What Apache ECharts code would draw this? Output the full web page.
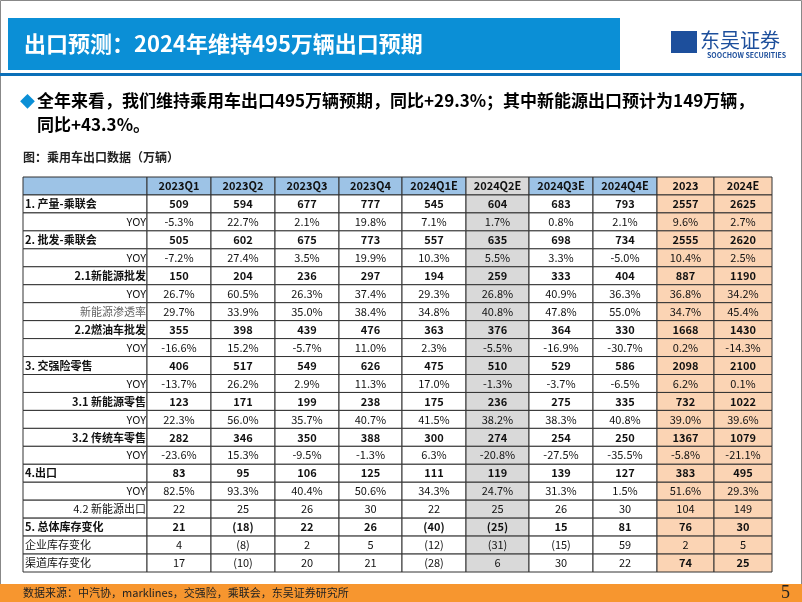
<!DOCTYPE html>
<html><head><meta charset="utf-8">
<script src="https://cdn.jsdelivr.net/npm/echarts@6/dist/echarts.min.js"></script>
<style>html,body{margin:0;padding:0;background:#fff}#main{width:802px;height:602px}</style>
</head><body><div id="main"></div>
<script>
// 表头
var colLabels = ['', '2023Q1', '2023Q2', '2023Q3', '2023Q4', '2024Q1E', '2024Q2E', '2024Q3E', '2024Q4E', '2023', '2024E'];
// 行标题
var rowLabels = ['1. 产量-乘联会', 'YOY', '2. 批发-乘联会', 'YOY', '2.1新能源批发', 'YOY', '新能源渗透率',
    '2.2燃油车批发', 'YOY', '3. 交强险零售', 'YOY', '3.1 新能源零售', 'YOY', '3.2 传统车零售', 'YOY',
    '4.出口', 'YOY', '4.2 新能源出口', '5. 总体库存变化', '企业库存变化', '渠道库存变化'];
// 数据（万辆 / 同比）
var rowValues = [
    ['509', '594', '677', '777', '545', '604', '683', '793', '2557', '2625'],
    ['-5.3%', '22.7%', '2.1%', '19.8%', '7.1%', '1.7%', '0.8%', '2.1%', '9.6%', '2.7%'],
    ['505', '602', '675', '773', '557', '635', '698', '734', '2555', '2620'],
    ['-7.2%', '27.4%', '3.5%', '19.9%', '10.3%', '5.5%', '3.3%', '-5.0%', '10.4%', '2.5%'],
    ['150', '204', '236', '297', '194', '259', '333', '404', '887', '1190'],
    ['26.7%', '60.5%', '26.3%', '37.4%', '29.3%', '26.8%', '40.9%', '36.3%', '36.8%', '34.2%'],
    ['29.7%', '33.9%', '35.0%', '38.4%', '34.8%', '40.8%', '47.8%', '55.0%', '34.7%', '45.4%'],
    ['355', '398', '439', '476', '363', '376', '364', '330', '1668', '1430'],
    ['-16.6%', '15.2%', '-5.7%', '11.0%', '2.3%', '-5.5%', '-16.9%', '-30.7%', '0.2%', '-14.3%'],
    ['406', '517', '549', '626', '475', '510', '529', '586', '2098', '2100'],
    ['-13.7%', '26.2%', '2.9%', '11.3%', '17.0%', '-1.3%', '-3.7%', '-6.5%', '6.2%', '0.1%'],
    ['123', '171', '199', '238', '175', '236', '275', '335', '732', '1022'],
    ['22.3%', '56.0%', '35.7%', '40.7%', '41.5%', '38.2%', '38.3%', '40.8%', '39.0%', '39.6%'],
    ['282', '346', '350', '388', '300', '274', '254', '250', '1367', '1079'],
    ['-23.6%', '15.3%', '-9.5%', '-1.3%', '6.3%', '-20.8%', '-27.5%', '-35.5%', '-5.8%', '-21.1%'],
    ['83', '95', '106', '125', '111', '119', '139', '127', '383', '495'],
    ['82.5%', '93.3%', '40.4%', '50.6%', '34.3%', '24.7%', '31.3%', '1.5%', '51.6%', '29.3%'],
    ['22', '25', '26', '30', '22', '25', '26', '30', '104', '149'],
    ['21', '(18)', '22', '26', '(40)', '(25)', '15', '81', '76', '30'],
    ['4', '(8)', '2', '5', '(12)', '(31)', '(15)', '59', '2', '5'],
    ['17', '(10)', '20', '21', '(28)', '6', '30', '22', '74', '25']
];
var boldRows = [0, 2, 4, 7, 9, 11, 13, 15, 18];
var leftRows = [0, 2, 9, 15, 18, 19, 20];

// 列边界（像素宽度，布局用）
var colEdges = [0, 124, 188, 252, 316, 379, 443, 506, 570, 634, 691, 749];

var font = '"Noto Sans CJK SC", "Noto Sans", sans-serif';
var cells = [];
var yCats = ['h'];
for (var r = 0; r < rowLabels.length; r++) yCats.push('r' + r);
for (var c = 0; c < colLabels.length; c++) cells.push([c, 0, colLabels[c]]);
for (var r = 0; r < rowLabels.length; r++) {
    cells.push([0, r + 1, rowLabels[r]]);
    for (var c = 0; c < rowValues[r].length; c++) cells.push([c + 1, r + 1, rowValues[r][c]]);
}

function renderCell(params, api) {
    var c = api.value(0), r = api.value(1), txt = cells[params.dataIndex][2];
    var p0 = api.coord([colEdges[c], r]);
    var p1 = api.coord([colEdges[c + 1], r]);
    var h = api.size([0, 1])[1];
    var x = p0[0], w = p1[0] - p0[0], y = p0[1] - h / 2;
    var fill = '#fff';
    if (r === 0) fill = c >= 9 ? '#fbd4b4' : (c === 6 ? '#d9d9d9' : '#9dc3e6');
    else if (c === 6) fill = '#d9d9d9';
    else if (c >= 9) fill = '#fbd4b4';
    var dr = r - 1;
    var bold = r === 0 || boldRows.indexOf(dr) >= 0 || (dr === 20 && c >= 9);
    var color = (c === 0 && dr === 6) ? '#666' : '#111';
    var align = 'center', tx = x + w / 2;
    if (c === 0 && r > 0) {
        if (leftRows.indexOf(dr) >= 0) { align = 'left'; tx = x + 2; }
        else { align = 'right'; tx = x + w - 1; }
    }
    return {
        type: 'group',
        children: [
            {type: 'rect', shape: {x: x, y: y, width: w, height: h},
                style: {fill: fill, stroke: '#333', lineWidth: 1}},
            {type: 'text', style: {x: tx, y: p0[1], text: txt, align: align, verticalAlign: 'middle',
                fill: color, font: (bold ? 'bold ' : '') + '11px ' + font}}
        ]
    };
}

var chart = echarts.init(document.getElementById('main'));
chart.setOption({
    animation: false,
    grid: {left: 23, top: 177, width: 749, height: 395},
    xAxis: {type: 'value', min: 0, max: 749, show: false},
    yAxis: {type: 'category', data: yCats, inverse: true, show: false},
    series: [{type: 'custom', renderItem: renderCell, data: cells.map(function (d) { return [d[0], d[1]]; })}],
    graphic: [
        {type: 'rect', shape: {x: 0.5, y: 0.5, width: 801, height: 601}, style: {fill: 'none', stroke: '#888'}},
        {type: 'rect', shape: {x: 8, y: 18, width: 612, height: 52}, style: {fill: '#0b8fd6'}},
        {type: 'text', style: {x: 24, y: 44, text: '出口预测：2024年维持495万辆出口预期', verticalAlign: 'middle',
            fill: '#fff', font: 'bold 22px ' + font}},
        {type: 'rect', shape: {x: 0, y: 73, width: 802, height: 3}, style: {fill: '#0b6fb8'}},
        {type: 'rect', shape: {x: 671, y: 31, width: 26, height: 22}, style: {fill: '#1d4f9c'}},
        {type: 'text', style: {x: 700, y: 40, text: '东吴证券', verticalAlign: 'middle', fill: '#1d4f9c', font: '20px ' + font}},
        {type: 'text', style: {x: 707, y: 55, text: 'SOOCHOW SECURITIES', verticalAlign: 'middle', fill: '#1d4f9c', font: 'bold 7px ' + font}},
        {type: 'text', style: {x: 20, y: 101, text: '◆', verticalAlign: 'middle', fill: '#0b8fd6', font: '15px ' + font}},
        {type: 'text', style: {x: 37, y: 101, text: '全年来看，我们维持乘用车出口495万辆预期，同比+29.3%；其中新能源出口预计为149万辆，',
            verticalAlign: 'middle', fill: '#000', font: 'bold 17px ' + font}},
        {type: 'text', style: {x: 37, y: 125, text: '同比+43.3%。', verticalAlign: 'middle', fill: '#000', font: 'bold 17px ' + font}},
        {type: 'text', style: {x: 23, y: 157, text: '图：乘用车出口数据（万辆）', verticalAlign: 'middle', fill: '#222', font: 'bold 12px ' + font}},
        {type: 'rect', shape: {x: 0, y: 584, width: 802, height: 18}, style: {fill: '#f7962f'}},
        {type: 'text', style: {x: 23, y: 593, text: '数据来源：中汽协，marklines，交强险，乘联会，东吴证券研究所', verticalAlign: 'middle', fill: '#222', font: '11px ' + font}},
        {type: 'text', style: {x: 790, y: 593, text: '5', align: 'right', verticalAlign: 'middle', fill: '#222', font: '18px "Liberation Serif", serif'}}
    ]
});
</script></body></html>
